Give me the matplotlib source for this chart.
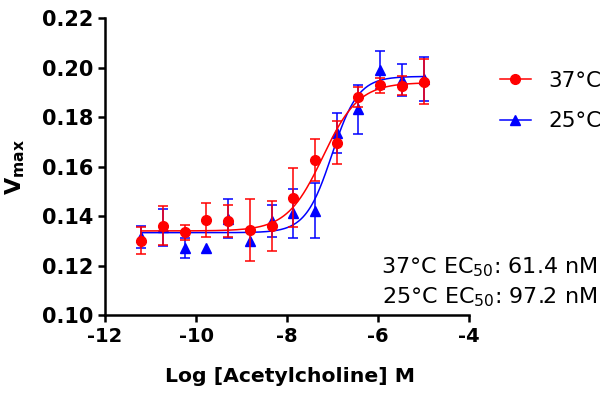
import numpy as np
import matplotlib.pyplot as plt
from matplotlib.lines import Line2D

# log10 [ACh] (M), 3-fold dilutions down from 10 uM
log_conc = [-11.20, -10.72, -10.25, -9.77, -9.29, -8.82, -8.34,
            -7.86, -7.39, -6.91, -6.43, -5.95, -5.48, -5.00]

vmax_37 = [0.1301, 0.1361, 0.1335, 0.1384, 0.1380, 0.1344, 0.1360,
           0.1475, 0.1626, 0.1697, 0.1882, 0.1929, 0.1928, 0.1944]
err_37 = [0.0053, 0.0078, 0.0030, 0.0068, 0.0065, 0.0126, 0.0102,
          0.0120, 0.0086, 0.0087, 0.0040, 0.0030, 0.0040, 0.0090]

vmax_25 = [0.1315, 0.1355, 0.1270, 0.1270, 0.1390, 0.1301, 0.1380,
           0.1411, 0.1422, 0.1735, 0.1832, 0.1991, 0.1950, 0.1955]
err_25 = [0.0045, 0.0075, 0.0040, 0.0, 0.0080, 0.0, 0.0065,
          0.0100, 0.0110, 0.0080, 0.0100, 0.0075, 0.0065, 0.0090]

# fitted Hill curves: bottom, top, logEC50, hill slope
fit_37 = (0.1340, 0.1940, np.log10(61.4e-9), 1.1)
fit_25 = (0.1333, 0.1965, np.log10(97.2e-9), 1.5)

labels = ['37°C', '25°C']
colors = ['#ff0000', '#0000ff']
markers = ['o', '^']
ec50_text = ['37°C EC$_{50}$: 61.4 nM', '25°C EC$_{50}$: 97.2 nM']


def hill(x, bottom, top, logec, h):
    return bottom + (top - bottom) / (1 + 10 ** ((logec - x) * h))


def main():
    plt.rcParams['font.family'] = 'DejaVu Sans'
    plt.rcParams['mathtext.fontset'] = 'dejavusans'
    plt.rcParams['axes.unicode_minus'] = False

    fig = plt.figure(figsize=(6.05, 3.94), dpi=100)
    ax = fig.add_axes([0.1736, 0.2005, 0.6016, 0.7531])

    xs = np.linspace(min(log_conc), max(log_conc), 300)
    series = [(vmax_25, err_25, fit_25, 1), (vmax_37, err_37, fit_37, 0)]
    for vals, errs, fit, i in series:
        errs = np.array(errs)
        errs = np.where(errs > 0, errs, np.nan)  # no bar where SEM < symbol
        z = 3 if i == 0 else 2
        ax.plot(xs, hill(xs, *fit), color=colors[i], lw=1.1, zorder=z)
        ax.errorbar(log_conc, vals, yerr=errs, fmt=markers[i], color=colors[i],
                    ms=7, elinewidth=1.1, capsize=3.3, capthick=1.1, zorder=z)

    ax.set_xlim(-12, -4)
    ax.set_ylim(0.10, 0.22)
    ax.set_xticks(np.arange(-12, -3, 2))
    ax.set_yticks(np.arange(0.10, 0.221, 0.02))
    ax.set_yticklabels(['%.2f' % v for v in np.arange(0.10, 0.221, 0.02)])
    for s in ['top', 'right']:
        ax.spines[s].set_visible(False)
    for s in ['left', 'bottom']:
        ax.spines[s].set_linewidth(1.8)
    ax.tick_params(width=1.8, length=5, direction='out')
    for t in ax.get_xticklabels():
        t.set_fontsize(14)
        t.set_fontweight('bold')
    for t in ax.get_yticklabels():
        t.set_fontsize(15)
        t.set_fontweight('bold')

    ax.set_xlabel('Log [Acetylcholine] M', fontsize=14.7, fontweight='bold')
    ax.xaxis.set_label_coords(0.508, -0.175)
    ax.set_ylabel(r'$\mathbf{V_{max}}$', fontsize=16)
    ax.yaxis.set_label_coords(-0.215, 0.5)

    handles = [Line2D([], [], color=colors[i], marker=markers[i], ms=7, lw=1.1)
               for i in range(2)]
    ax.legend(handles, labels, loc='upper left', bbox_to_anchor=(0.794, 0.87),
              bbox_transform=fig.transFigure, frameon=False, fontsize=15.5,
              handlelength=1.45, handletextpad=0.8, labelspacing=0.95)

    fig.text(0.987, 0.323, ec50_text[0], ha='right', va='center', fontsize=16)
    fig.text(0.987, 0.245, ec50_text[1], ha='right', va='center', fontsize=16)

    fig.savefig('out.png', dpi=100)


if __name__ == '__main__':
    main()
